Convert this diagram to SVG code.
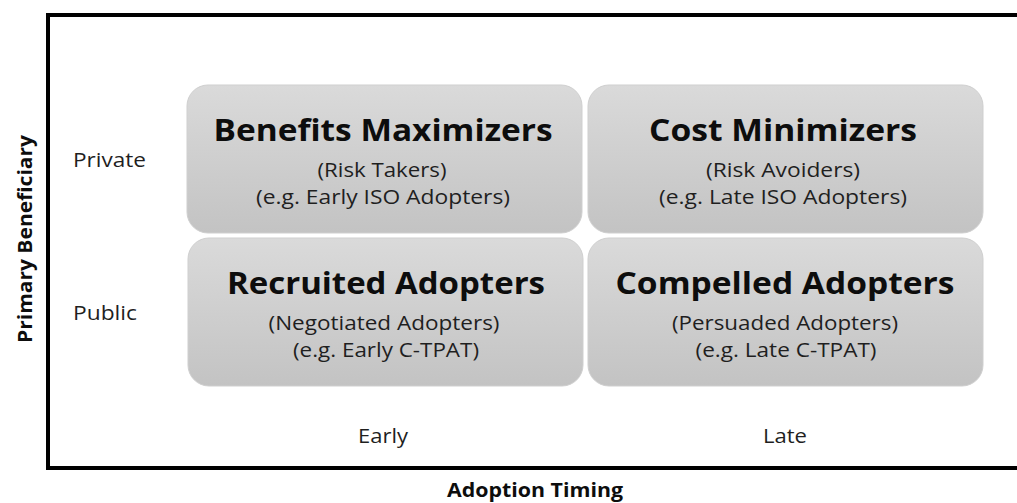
<svg xmlns="http://www.w3.org/2000/svg" width="1017" height="503" viewBox="0 0 1017 503">
  <defs>
    <linearGradient id="cellFill" x1="0" y1="0" x2="0" y2="1">
      <stop offset="0" stop-color="#dadada"/>
      <stop offset="1" stop-color="#c3c3c3"/>
    </linearGradient>
    <style>
      .cell { fill: url(#cellFill); stroke: #cfcfcf; stroke-width: 1; }
      .title { font-family: "Open Sans", "Liberation Sans", sans-serif; font-weight: bold; font-size: 31px; fill: #0d0d0d; text-anchor: middle; }
      .sub { font-family: "Open Sans", "Liberation Sans", sans-serif; font-size: 20px; fill: #1f1f1f; text-anchor: middle; }
      .axisval { font-family: "Open Sans", "Liberation Sans", sans-serif; font-size: 20px; fill: #1f1f1f; }
      .axistitle { font-family: "Open Sans", "Liberation Sans", sans-serif; font-weight: bold; font-size: 20px; fill: #0d0d0d; text-anchor: middle; }
    </style>
  </defs>

  <rect width="1017" height="503" fill="#ffffff"/>

  <!-- chart frame (open to the right edge) -->
  <rect x="48" y="15" width="990" height="453" fill="none" stroke="#000000" stroke-width="4"/>

  <!-- axis titles -->
  <text class="axistitle" x="535" y="497" textLength="176" lengthAdjust="spacingAndGlyphs">Adoption Timing</text>
  <text class="axistitle" transform="translate(32,239) rotate(-90)" x="0" y="0" textLength="208" lengthAdjust="spacingAndGlyphs">Primary Beneficiary</text>

  <!-- axis values -->
  <text class="axisval" x="73" y="167" textLength="73" lengthAdjust="spacingAndGlyphs">Private</text>
  <text class="axisval" x="73" y="320" textLength="64" lengthAdjust="spacingAndGlyphs">Public</text>
  <text class="axisval" x="383" y="443" text-anchor="middle" textLength="50" lengthAdjust="spacingAndGlyphs">Early</text>
  <text class="axisval" x="785" y="443" text-anchor="middle" textLength="44" lengthAdjust="spacingAndGlyphs">Late</text>

  <!-- quadrant cells -->
  <g id="benefits-maximizers">
    <rect class="cell" x="187" y="85" width="395" height="148" rx="21" ry="21"/>
    <text class="title" x="383" y="141" textLength="339" lengthAdjust="spacingAndGlyphs">Benefits Maximizers</text>
    <text class="sub" x="382" y="177" textLength="129" lengthAdjust="spacingAndGlyphs">(Risk Takers)</text>
    <text class="sub" x="383" y="204" textLength="254" lengthAdjust="spacingAndGlyphs">(e.g. Early ISO Adopters)</text>
  </g>

  <g id="cost-minimizers">
    <rect class="cell" x="588" y="85" width="395" height="148" rx="21" ry="21"/>
    <text class="title" x="783" y="141" textLength="268" lengthAdjust="spacingAndGlyphs">Cost Minimizers</text>
    <text class="sub" x="783" y="177" textLength="154" lengthAdjust="spacingAndGlyphs">(Risk Avoiders)</text>
    <text class="sub" x="783" y="204" textLength="248" lengthAdjust="spacingAndGlyphs">(e.g. Late ISO Adopters)</text>
  </g>

  <g id="recruited-adopters">
    <rect class="cell" x="188" y="238" width="395" height="148" rx="21" ry="21"/>
    <text class="title" x="386" y="294" textLength="318" lengthAdjust="spacingAndGlyphs">Recruited Adopters</text>
    <text class="sub" x="384" y="330" textLength="231" lengthAdjust="spacingAndGlyphs">(Negotiated Adopters)</text>
    <text class="sub" x="386" y="357" textLength="186" lengthAdjust="spacingAndGlyphs">(e.g. Early C-TPAT)</text>
  </g>

  <g id="compelled-adopters">
    <rect class="cell" x="588" y="238" width="395" height="148" rx="21" ry="21"/>
    <text class="title" x="785" y="294" textLength="339" lengthAdjust="spacingAndGlyphs">Compelled Adopters</text>
    <text class="sub" x="785" y="330" textLength="226" lengthAdjust="spacingAndGlyphs">(Persuaded Adopters)</text>
    <text class="sub" x="786" y="357" textLength="181" lengthAdjust="spacingAndGlyphs">(e.g. Late C-TPAT)</text>
  </g>
</svg>
